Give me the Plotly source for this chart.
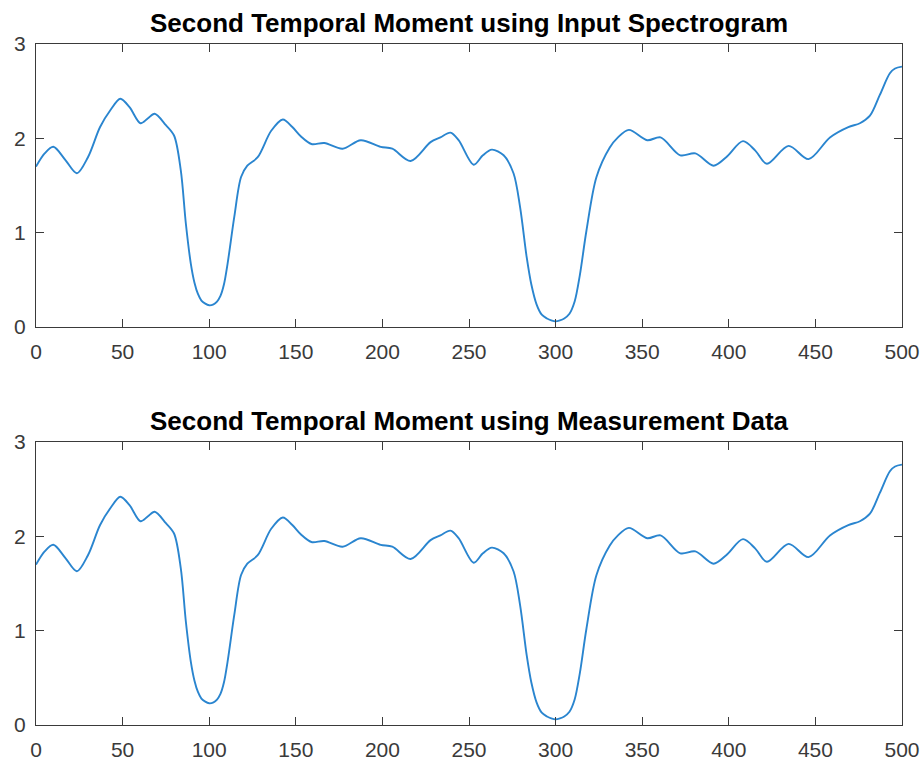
import plotly.graph_objects as go

# Sample index and second temporal moment values
sample_idx = [0, 5, 10, 17, 23.6, 30, 37, 43, 48.7, 54, 60.3, 64.5, 68.5, 75, 79.7,
              83.6, 86.5, 89.4, 91.5, 93.5, 95.5, 97.5, 100, 102.5, 104.5, 106.5, 108.5,
              110.6, 114.5, 118.4, 122, 128, 135.8, 142.5, 148, 153, 159, 166.5, 177,
              187.5, 199, 205.7, 216.3, 227.8, 233.5, 239.3, 244, 252.7, 258, 263.2,
              270, 275.7, 279.5, 283.3, 286, 289, 292, 295, 297.5, 300, 302.5, 305,
              308, 311, 314, 317.8, 323.6, 331.2, 336, 342.3, 352.9, 360.6, 372, 380.7,
              391.2, 398.5, 408.2, 415.3, 422, 434.5, 446, 458.4, 469, 475.7, 481.5,
              487.2, 493, 496, 500]
moment_spectrogram = [1.70, 1.84, 1.91, 1.77, 1.63, 1.80, 2.12, 2.30, 2.42, 2.33, 2.16,
                      2.21, 2.26, 2.14, 2.03, 1.66, 1.10, 0.67, 0.47, 0.35, 0.28, 0.25,
                      0.23, 0.24, 0.27, 0.33, 0.45, 0.67, 1.17, 1.59, 1.71, 1.80, 2.08,
                      2.20, 2.12, 2.02, 1.94, 1.95, 1.89, 1.98, 1.91, 1.89, 1.76, 1.96,
                      2.01, 2.06, 1.98, 1.72, 1.82, 1.88, 1.82, 1.63, 1.27, 0.74, 0.45,
                      0.24, 0.13, 0.09, 0.07, 0.06, 0.07, 0.09, 0.14, 0.27, 0.55, 1.02,
                      1.59, 1.90, 2.01, 2.09, 1.98, 2.01, 1.82, 1.84, 1.71, 1.80, 1.97,
                      1.87, 1.73, 1.92, 1.78, 2.01, 2.12, 2.16, 2.24, 2.46, 2.69, 2.74,
                      2.76]
moment_measured = list(moment_spectrogram)

x_ticks = [0, 50, 100, 150, 200, 250, 300, 350, 400, 450, 500]
y_ticks = [0, 1, 2, 3]

titles = ["Second Temporal Moment using Input Spectrogram",
          "Second Temporal Moment using Measurement Data"]

LINE_BLUE = "#2a85cf"
AXIS_GRAY = "#3a3a3a"
FONT = "Liberation Sans, Arial, Helvetica, sans-serif"

fig = go.Figure()
fig.add_trace(go.Scatter(x=sample_idx, y=moment_spectrogram, mode="lines",
                         line=dict(color=LINE_BLUE, width=1.9, shape="spline", smoothing=0.9),
                         xaxis="x", yaxis="y", showlegend=False, hoverinfo="skip"))
fig.add_trace(go.Scatter(x=sample_idx, y=moment_measured, mode="lines",
                         line=dict(color=LINE_BLUE, width=1.9, shape="spline", smoothing=0.9),
                         xaxis="x2", yaxis="y2", showlegend=False, hoverinfo="skip"))

W, H = 924, 763
x_dom = [36 / W, 902 / W]
top_dom = [1 - 327 / H, 1 - 44 / H]
bot_dom = [1 - 725 / H, 1 - 442 / H]

axis_common = dict(showline=True, mirror="ticks", linecolor=AXIS_GRAY, linewidth=1.3,
                   ticks="inside", ticklen=8, tickcolor=AXIS_GRAY, tickwidth=1.3,
                   showgrid=False, zeroline=False, automargin=False,
                   tickfont=dict(family=FONT, size=21, color=AXIS_GRAY))
x_common = dict(axis_common, ticklabelstandoff=6)
y_common = dict(axis_common, ticklabelstandoff=5)

fig.update_layout(
    width=W, height=H,
    margin=dict(l=0, r=0, t=0, b=0),
    paper_bgcolor="white", plot_bgcolor="white",
    xaxis=dict(domain=x_dom, range=[0, 500], tickvals=x_ticks, anchor="y", **x_common),
    yaxis=dict(domain=top_dom, range=[0, 3], tickvals=y_ticks, anchor="x", **y_common),
    xaxis2=dict(domain=x_dom, range=[0, 500], tickvals=x_ticks, anchor="y2", **x_common),
    yaxis2=dict(domain=bot_dom, range=[0, 3], tickvals=y_ticks, anchor="x2", **y_common),
)

for title, ytop in zip(titles, [top_dom[1], bot_dom[1]]):
    fig.add_annotation(text="<b>%s</b>" % title, xref="paper", yref="paper",
                       x=(x_dom[0] + x_dom[1]) / 2, y=ytop, yanchor="bottom",
                       xanchor="center", yshift=4, showarrow=False,
                       font=dict(family=FONT, size=26, color="#000000"))

fig.write_html("out.html")
